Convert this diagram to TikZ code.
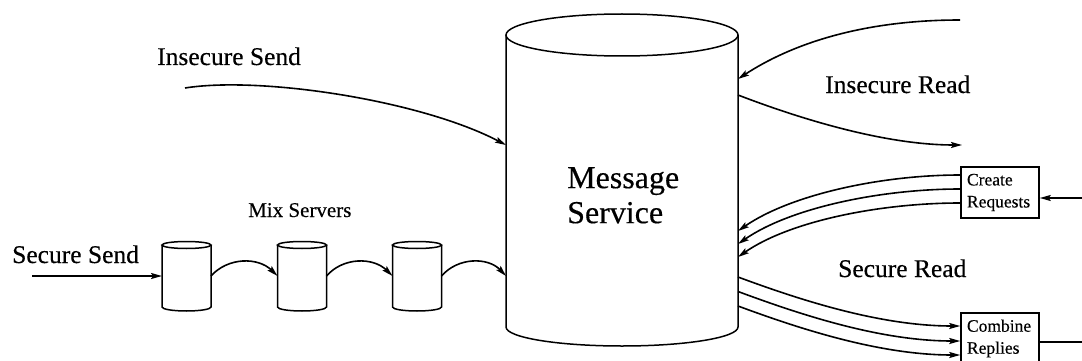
\documentclass[tikz,border=0pt]{standalone}
\usepackage{fontspec}
\setmainfont{Liberation Serif}
\newfontfamily\tms[FakeBold=0.35]{Liberation Serif}
\usetikzlibrary{arrows.meta}
\tikzset{
  conn/.style={line width=1.6pt, -{Stealth[length=11pt,width=6pt,inset=2pt]}},
  plainline/.style={line width=1.6pt},
  cylbody/.style={inner sep=0pt, outer sep=0pt},
  cylline/.style={line width=1.5pt},
  procbox/.style={draw, line width=1.5pt, inner xsep=6pt, inner ysep=0pt, text width=66pt, minimum height=51pt, align=left, font=\tms\fontsize{17.5}{22}\selectfont},
  biglabel/.style={anchor=base west, inner sep=0pt, font=\tms\fontsize{25.5}{30}\selectfont},
}
\begin{document}
\begin{tikzpicture}[x=1pt,y=-1pt]
\path[use as bounding box] (0,0) rectangle (1082,361);
\clip (0,0) rectangle (1082,361);

% big cylinder
\node[cylbody, minimum width=232pt, minimum height=292pt] (ms) at (622,181) {};
\draw[cylline] (ms.north) ellipse [x radius=116pt, y radius=21pt];
\draw[cylline] (ms.north west) -- (ms.south west) arc[start angle=180, end angle=360, x radius=116pt, y radius=19pt] -- (ms.north east);
\node[anchor=north west, inner sep=0pt, align=left, font=\tms\fontsize{32}{35}\selectfont] (mstext) at (567,167) {Message\\Service};

% small cylinders
\foreach \n/\cx in {c1/186.5, c2/302, c3/417} {
  \node[cylbody, minimum width=49pt, minimum height=62pt] (\n) at (\cx,276) {};
  \draw[cylline] (\n.north) ellipse [x radius=24.5pt, y radius=3.5pt];
  \draw[cylline] (\n.north west) -- (\n.south west) arc[start angle=180, end angle=360, x radius=24.5pt, y radius=4pt] -- (\n.north east);
}

% boxes
\node[procbox] (cr) at (1000,192.5) {Create\\Requests};
\node[procbox] (cb) at (1000,338.5) {Combine\\Replies};

% labels
\node[biglabel] (lis) at (157,65) {Insecure Send};
\node[biglabel] (lss) at (12,263) {Secure Send};
\node[biglabel, font=\tms\fontsize{21}{25}\selectfont] (lmix) at (248,217) {Mix Servers};
\node[biglabel] (lir) at (825,93) {Insecure Read};
\node[biglabel] (lsr) at (838,277) {Secure Read};

% free ends
\coordinate (ssin) at (32,276);
\coordinate (isin) at (185,88);
\coordinate (irin) at (960,20);
\coordinate (irout) at (962,145);
\coordinate (crin) at (1082,198);
\coordinate (cbout) at (1082,342);

% secure send chain
\draw[conn] (ssin) -- (c1.west);
\draw[conn] (c1.east) .. controls (228,257) and (258,257) .. (c2.west);
\draw[conn] (c2.east) .. controls (343,257) and (373,257) .. (c3.west);
\draw[conn] (c3.east) .. controls (458,257) and (488,257) .. (ms.west |- c3.east);

% insecure send
\draw[conn] (isin) .. controls (260,76) and (420,100) .. ([yshift=36pt]ms.west);

% insecure read
\draw[conn] (irin) .. controls (860,20) and (790,45) .. ([yshift=102pt]ms.east);
\draw[conn] ([yshift=86pt]ms.east) .. controls (790,115) and (880,145) .. (irout);

% secure read requests
\draw[conn] ([yshift=17.5pt]cr.west) .. controls (880,175) and (790,195) .. ([yshift=-50pt]ms.east);
\draw[conn] ([yshift=3.5pt]cr.west) .. controls (880,189) and (790,208) .. ([yshift=-63pt]ms.east);
\draw[conn] ([yshift=-10.5pt]cr.west) .. controls (880,203) and (790,221) .. ([yshift=-76pt]ms.east);

% secure read replies
\draw[conn] ([yshift=-96pt]ms.east) .. controls (800,300) and (880,326) .. ([yshift=12.5pt]cb.west);
\draw[conn] ([yshift=-110.5pt]ms.east) .. controls (800,314.5) and (880,341) .. ([yshift=-2.5pt]cb.west);
\draw[conn] ([yshift=-125pt]ms.east) .. controls (800,329) and (880,355) .. ([yshift=-16.5pt]cb.west);

% box in/out
\draw[conn] (crin) -- (cr.east |- crin);
\draw[plainline] (cb.east |- cbout) -- (cbout);
\end{tikzpicture}
\end{document}
